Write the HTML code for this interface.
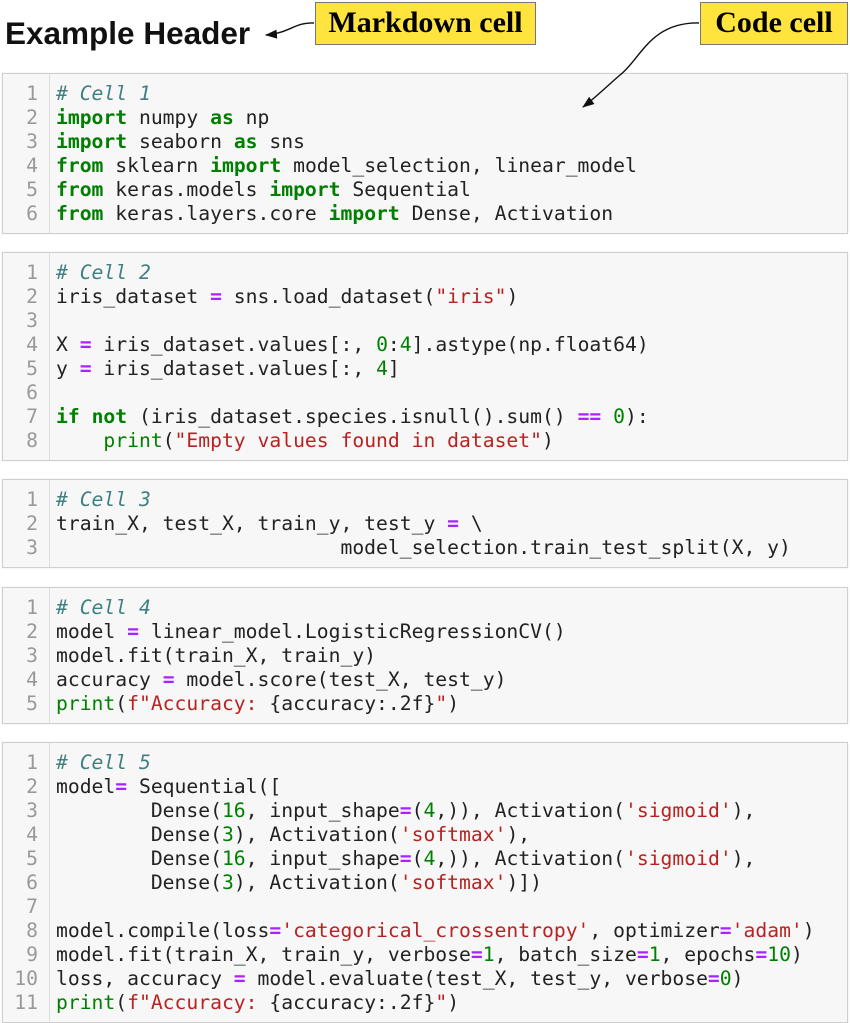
<!DOCTYPE html>
<html><head><style>
body{margin:0;width:850px;height:1023px;background:#fff;position:relative;overflow:hidden}
.cell{position:absolute;left:2px;width:844px;background:#f7f7f7;border:1px solid #cfcfcf;box-shadow:0 0 1px #ddd}
.gut{position:absolute;left:0;top:0;bottom:0;width:46px;border-right:1px solid #ddd}
pre{margin:0;font-family:"DejaVu Sans Mono","Liberation Mono",monospace;font-size:19.7px;line-height:24px;position:absolute;top:8px}
.ln{left:0;width:35px;text-align:right;color:#999}
.code{left:53px;color:#222}
.k{color:#008000;font-weight:bold}
.c{color:#408080;font-style:italic}
.s{color:#BA2121}
.n{color:#008000}
.o{color:#AA22FF;font-weight:bold}
.b{color:#008000}
.hdr{position:absolute;left:5px;top:15px;font:bold 31.5px "Liberation Sans",sans-serif;color:#111}
.lab{position:absolute;top:2px;height:43px;background:#ffe43d;border:1px solid #777;font:bold 30px "Liberation Serif",serif;text-align:center;line-height:40px;box-sizing:border-box}
</style></head><body>
<div class="hdr">Example Header</div>
<div class="lab" style="left:315px;width:221px">Markdown cell</div>
<div class="lab" style="left:700px;width:148px">Code cell</div>

<div class="cell" style="top:73px;height:159px"><div class="gut"></div>
<pre class="ln">1
2
3
4
5
6</pre>
<pre class="code"><span class="c"># Cell 1</span>
<span class="k">import</span> numpy <span class="k">as</span> np
<span class="k">import</span> seaborn <span class="k">as</span> sns
<span class="k">from</span> sklearn <span class="k">import</span> model_selection, linear_model
<span class="k">from</span> keras.models <span class="k">import</span> Sequential
<span class="k">from</span> keras.layers.core <span class="k">import</span> Dense, Activation</pre></div>

<div class="cell" style="top:252px;height:207px"><div class="gut"></div>
<pre class="ln">1
2
3
4
5
6
7
8</pre>
<pre class="code"><span class="c"># Cell 2</span>
iris_dataset <span class="o">=</span> sns.load_dataset(<span class="s">"iris"</span>)

X <span class="o">=</span> iris_dataset.values[:, <span class="n">0</span>:<span class="n">4</span>].astype(np.float64)
y <span class="o">=</span> iris_dataset.values[:, <span class="n">4</span>]

<span class="k">if</span> <span class="k">not</span> (iris_dataset.species.isnull().sum() <span class="o">==</span> <span class="n">0</span>):
    <span class="b">print</span>(<span class="s">"Empty values found in dataset"</span>)</pre></div>

<div class="cell" style="top:479px;height:87px"><div class="gut"></div>
<pre class="ln">1
2
3</pre>
<pre class="code"><span class="c"># Cell 3</span>
train_X, test_X, train_y, test_y <span class="o">=</span> \
                        model_selection.train_test_split(X, y)</pre></div>

<div class="cell" style="top:587px;height:135px"><div class="gut"></div>
<pre class="ln">1
2
3
4
5</pre>
<pre class="code"><span class="c"># Cell 4</span>
model <span class="o">=</span> linear_model.LogisticRegressionCV()
model.fit(train_X, train_y)
accuracy <span class="o">=</span> model.score(test_X, test_y)
<span class="b">print</span>(<span class="s">f"Accuracy: </span>{accuracy:.2f}<span class="s">"</span>)</pre></div>

<div class="cell" style="top:742px;height:279px"><div class="gut"></div>
<pre class="ln">1
2
3
4
5
6
7
8
9
10
11</pre>
<pre class="code"><span class="c"># Cell 5</span>
model<span class="o">=</span> Sequential([
        Dense(<span class="n">16</span>, input_shape<span class="o">=</span>(<span class="n">4</span>,)), Activation(<span class="s">'sigmoid'</span>),
        Dense(<span class="n">3</span>), Activation(<span class="s">'softmax'</span>),
        Dense(<span class="n">16</span>, input_shape<span class="o">=</span>(<span class="n">4</span>,)), Activation(<span class="s">'sigmoid'</span>),
        Dense(<span class="n">3</span>), Activation(<span class="s">'softmax'</span>)])

model.compile(loss<span class="o">=</span><span class="s">'categorical_crossentropy'</span>, optimizer<span class="o">=</span><span class="s">'adam'</span>)
model.fit(train_X, train_y, verbose<span class="o">=</span><span class="n">1</span>, batch_size<span class="o">=</span><span class="n">1</span>, epochs<span class="o">=</span><span class="n">10</span>)
loss, accuracy <span class="o">=</span> model.evaluate(test_X, test_y, verbose<span class="o">=</span><span class="n">0</span>)
<span class="b">print</span>(<span class="s">f"Accuracy: </span>{accuracy:.2f}<span class="s">"</span>)</pre></div>

<svg style="position:absolute;left:0;top:0;z-index:5" width="850" height="130">
<defs><marker id="a" markerWidth="12" markerHeight="9" refX="11" refY="4.5" orient="auto" markerUnits="userSpaceOnUse"><path d="M0,0 L12,4.5 L0,9 z" fill="#111"/></marker></defs>
<path d="M314,23 C295,22 290,33 266,35" fill="none" stroke="#111" stroke-width="1.4" marker-end="url(#a)"/>
<path d="M699,23 C650,22 640,60 620,75 C605,88 595,98 583,107" fill="none" stroke="#111" stroke-width="1.4" marker-end="url(#a)"/>
</svg>
</body></html>
